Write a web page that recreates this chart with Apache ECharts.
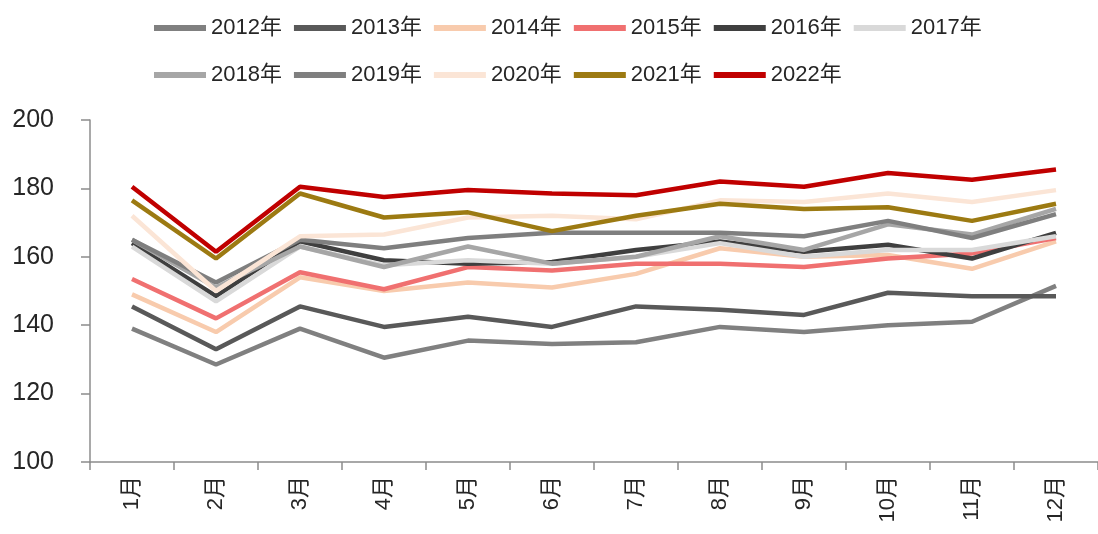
<!DOCTYPE html>
<html>
<head>
<meta charset="utf-8">
<script src="https://cdn.jsdelivr.net/npm/echarts@6/dist/echarts.min.js"></script>
<style>
  html, body { margin: 0; padding: 0; background: #fff; }
  #chart { width: 1098px; height: 534px; }
</style>
</head>
<body>
<div id="chart"></div>
<script>
const months = ["1月", "2月", "3月", "4月", "5月", "6月", "7月", "8月", "9月", "10月", "11月", "12月"];
const yTicks = [100, 120, 140, 160, 180, 200];

const y2012 = [139, 128.5, 139, 130.5, 135.5, 134.5, 135, 139.5, 138, 140, 141, 151.5];
const y2013 = [145.5, 133, 145.5, 139.5, 142.5, 139.5, 145.5, 144.5, 143, 149.5, 148.5, 148.5];
const y2014 = [149, 138, 154, 150, 152.5, 151, 155, 162.5, 160, 160.5, 156.5, 164.5];
const y2015 = [153.5, 142, 155.5, 150.5, 157, 156, 158, 158, 157, 159.5, 161, 165.5];
const y2016 = [164, 148.5, 164.5, 159, 158, 158.5, 162, 164.5, 161.5, 163.5, 159.5, 167];
const y2017 = [163, 147, 163, 157.5, 159, 158, 160, 164, 160, 162, 162, 166];
const y2018 = [165, 151, 163, 157, 163, 158, 160, 166, 162, 169.5, 166.5, 174];
const y2019 = [165, 152.5, 165, 162.5, 165.5, 167, 167, 167, 166, 170.5, 165.5, 172.5];
const y2020 = [172, 150, 166, 166.5, 171.5, 172, 171, 176.5, 176, 178.5, 176, 179.5];
const y2021 = [176.5, 159.5, 178.5, 171.5, 173, 167.5, 172, 175.5, 174, 174.5, 170.5, 175.5];
const y2022 = [180.5, 161.5, 180.5, 177.5, 179.5, 178.5, 178, 182, 180.5, 184.5, 182.5, 185.5];

const years = ["2012年", "2013年", "2014年", "2015年", "2016年", "2017年", "2018年", "2019年", "2020年", "2021年", "2022年"];
const values = [y2012, y2013, y2014, y2015, y2016, y2017, y2018, y2019, y2020, y2021, y2022];
const colors = ["#808080", "#595959", "#f8cbad", "#f07070", "#3f3f3f", "#d9d9d9", "#a6a6a6", "#7f7f7f", "#fbe5d6", "#9c7a12", "#c00000"];

const font = "'Liberation Sans', 'Noto Sans CJK SC', sans-serif";

const myChart = echarts.init(document.getElementById("chart"));

const legendBase = {
  left: 149,
  icon: "rect",
  itemWidth: 52,
  itemHeight: 6,
  itemGap: 12,
  textStyle: {
    fontFamily: font,
    fontSize: 22,
    color: "#262626",
  },
};

myChart.setOption({
  animation: false,
  color: colors,
  legend: [
    Object.assign({}, legendBase, { top: 12, data: years.slice(0, 6) }),
    Object.assign({}, legendBase, { top: 59, data: years.slice(6) }),
  ],
  grid: {
    left: 90,
    top: 120,
    width: 1012,
    height: 342,
  },
  xAxis: {
    type: "category",
    data: months,
    axisLine: { lineStyle: { color: "#8c8c8c", width: 1.5 } },
    axisTick: { show: true, length: 8, lineStyle: { color: "#8c8c8c", width: 1.5 } },
    axisLabel: {
      rotate: 90,
      margin: 14,
      fontFamily: font,
      fontSize: 22,
      color: "#262626",
    },
  },
  yAxis: {
    type: "value",
    min: yTicks[0],
    max: yTicks[yTicks.length - 1],
    interval: 20,
    axisLine: { show: true, lineStyle: { color: "#8c8c8c", width: 1.5 } },
    axisTick: { show: true, length: 9, lineStyle: { color: "#8c8c8c", width: 1.5 } },
    splitLine: { show: false },
    axisLabel: {
      margin: 36,
      fontFamily: font,
      fontSize: 25,
      color: "#262626",
    },
  },
  series: years.map((name, i) => ({
    name: name,
    type: "line",
    data: values[i],
    symbol: "none",
    lineStyle: { width: 4.5, color: colors[i] },
    itemStyle: { color: colors[i] },
  })),
});
</script>
</body>
</html>
